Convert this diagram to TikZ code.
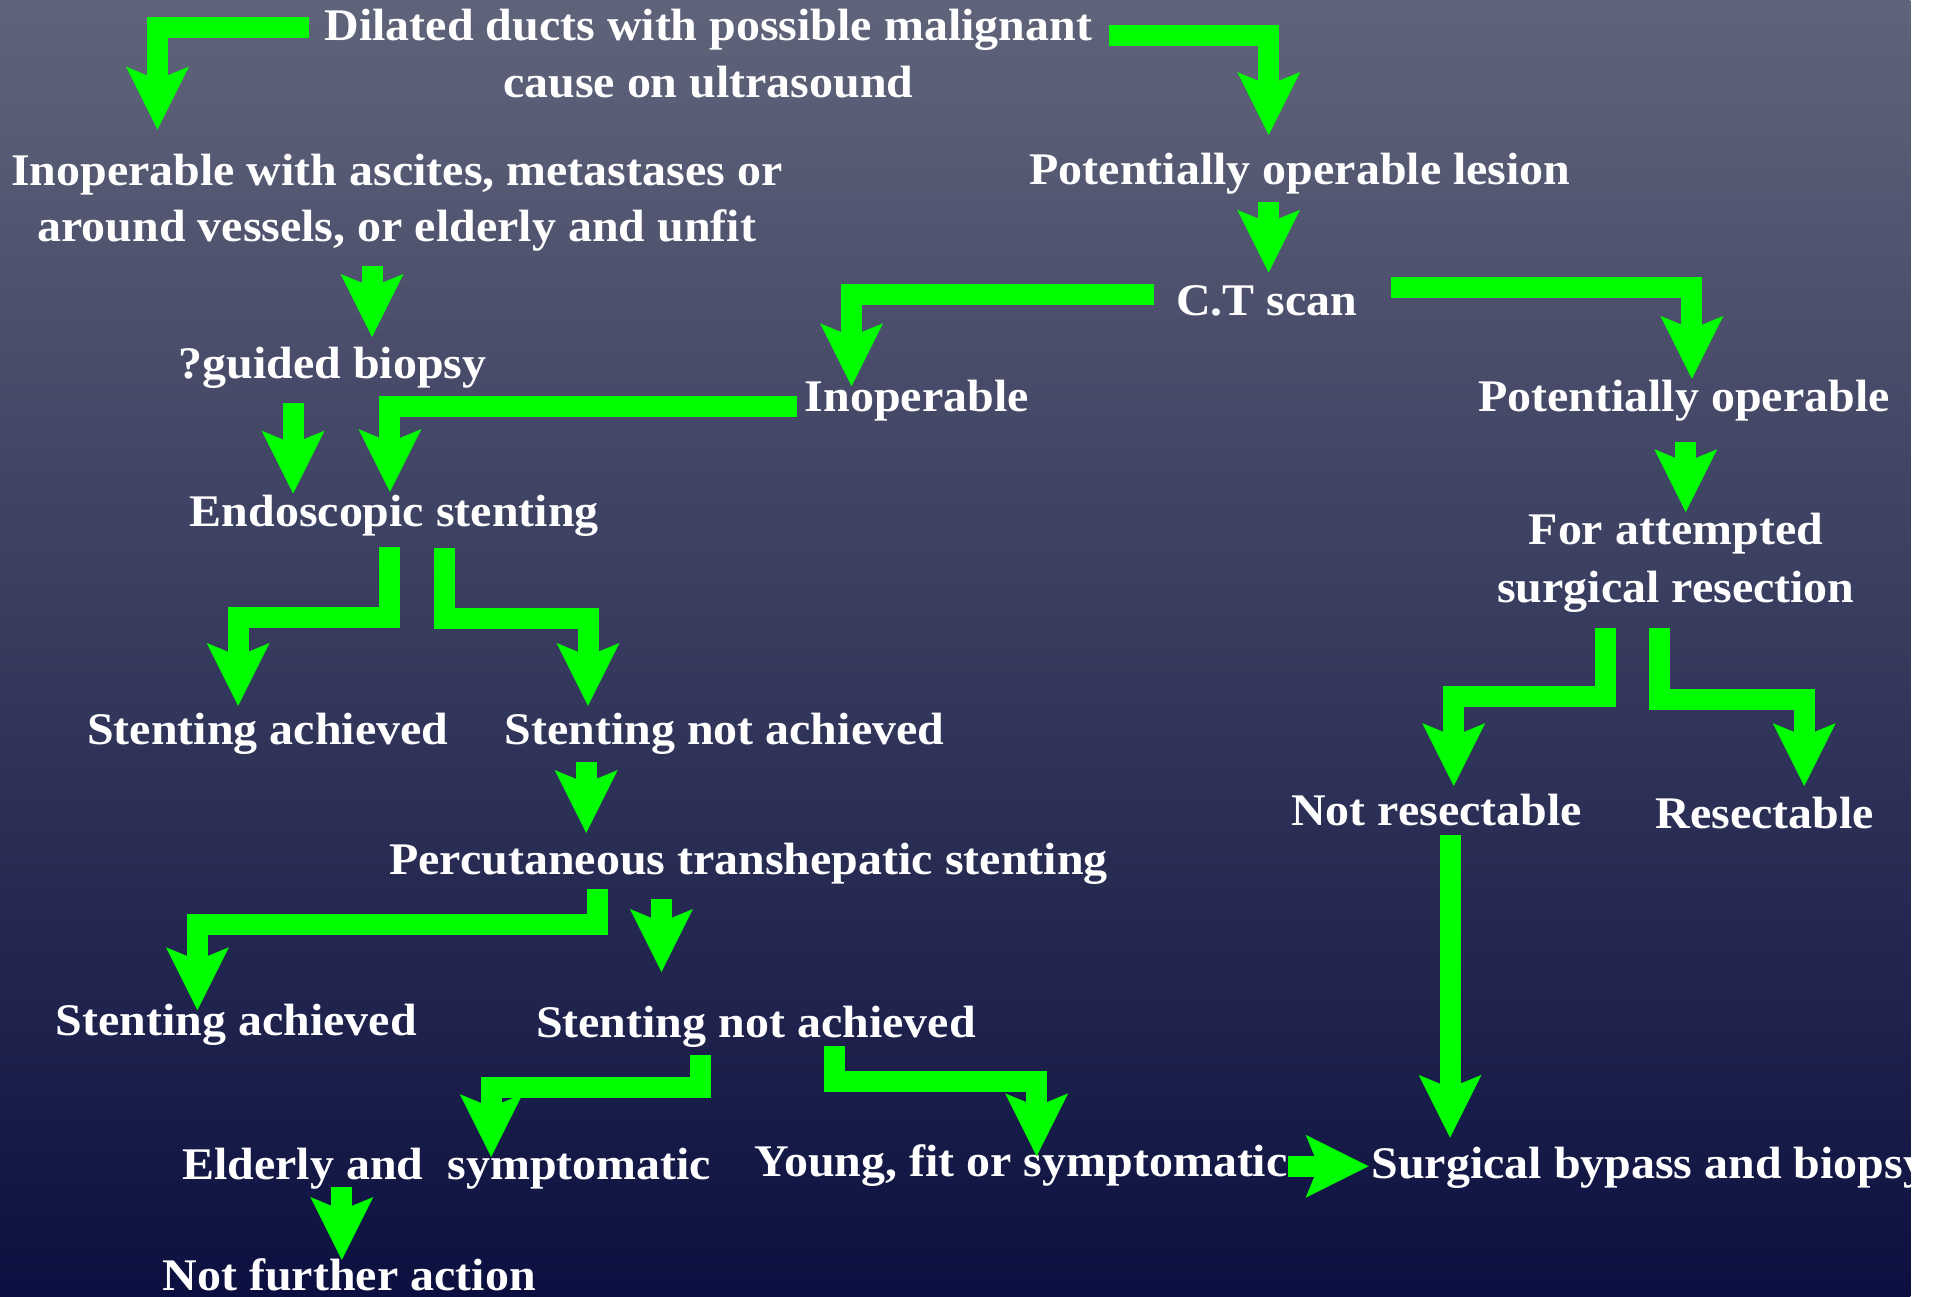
\documentclass[tikz,border=0pt]{standalone}
\usepackage{fontspec}
\setmainfont{Liberation Serif}[FakeStretch=1.06]
\usetikzlibrary{arrows.meta}
\definecolor{bgtop}{RGB}{96,100,122}
\definecolor{bgbot}{RGB}{12,16,64}
\definecolor{arrowgreen}{RGB}{0,255,0}
\tikzset{
  lbl/.style={text=white, font=\bfseries\fontsize{22pt}{27.6pt}\selectfont,
    inner sep=0pt, anchor=base, align=center},
  garrow/.style={draw=arrowgreen, line width=10.2pt, line join=miter,
    -{Stealth[length=30.6pt,width=30.6pt,inset=6.3pt,line width=0pt]}},
}
\begin{document}
\begin{tikzpicture}[x=0.6pt,y=-0.6pt]
\useasboundingbox (0,0) rectangle (1568,1051);
\fill[white] (0,0) rectangle (1568,1051);
\begin{scope}
\clip (0,0) rectangle (1548,1051);
\shade[top color=bgtop,bottom color=bgbot] (0,0) rectangle (1548,1051);

% ---- text nodes (base anchor = baseline of the last line) ----
\node[lbl] (dil) at (574,79) {Dilated ducts with possible malignant\\cause on ultrasound};
\node[lbl] (inopa) at (321.5,196) {Inoperable with ascites, metastases or\\around vessels, or elderly and unfit};
\node[lbl] (potles) at (1053.5,149.4) {Potentially operable lesion};
\node[lbl] (ct) at (1026.5,255.3) {C.T scan};
\node[lbl] (biop) at (269.5,307) {?guided biopsy};
\node[lbl] (inop) at (743,333.6) {Inoperable};
\node[lbl] (potop) at (1364.5,333.6) {Potentially operable};
\node[lbl] (endo) at (319.5,426.8) {Endoscopic stenting};
\node[lbl] (attempt) at (1358,488) {For attempted\\[0.6pt]surgical resection};
\node[lbl] (sa1) at (217,603) {Stenting achieved};
\node[lbl] (sna1) at (587,603) {Stenting not achieved};
\node[lbl] (notres) at (1164,669) {Not resectable};
\node[lbl] (res) at (1430,671) {Resectable};
\node[lbl] (perc) at (606.5,709) {Percutaneous transhepatic stenting};
\node[lbl] (sa2) at (191.5,838.7) {Stenting achieved};
\node[lbl] (sna2) at (612.5,841) {Stenting not achieved};
\node[lbl] (elder) at (362,956) {Elderly and\ \ symptomatic};
\node[lbl] (young) at (827.5,953) {Young, fit or symptomatic};
\node[lbl, anchor=base west] (surg) at (1111,955) {Surgical bypass and biopsy};
\node[lbl] (nfa) at (283,1046) {Not further action};

% ---- connector end points ----
\coordinate (a1s) at (250,22);      \coordinate (a1e) at (127.6,105);
\coordinate (a2s) at (899,28.4);    \coordinate (a2e) at (1028,109.4);
\coordinate (a3s) at (1028,164);    \coordinate (a3e) at (1028,221);
\coordinate (a4s) at (935,238.7);   \coordinate (a4e) at (690,313);
\coordinate (a5s) at (1127,233);    \coordinate (a5e) at (1371,307);
\coordinate (a6s) at (301.5,215.5); \coordinate (a6e) at (301.5,273);
\coordinate (a7s) at (237.5,326.6); \coordinate (a7e) at (237.5,400);
\coordinate (a8s) at (646,329.4);   \coordinate (a8e) at (316,398.7);
\coordinate (a9s) at (316,443);     \coordinate (a9e) at (193,572);
\coordinate (a10s) at (360,444);    \coordinate (a10e) at (476.5,572);
\coordinate (a11s) at (475,617.5);  \coordinate (a11e) at (475,675);
\coordinate (a12s) at (1366,358);   \coordinate (a12e) at (1366,415);
\coordinate (a13s) at (1301,508.5); \coordinate (a13e) at (1178,637);
\coordinate (a14s) at (1345,509);   \coordinate (a14e) at (1462,637);
\coordinate (a15s) at (1175,677);   \coordinate (a15e) at (1175,922);
\coordinate (a16s) at (484,720);    \coordinate (a16e) at (160,818.6);
\coordinate (a17s) at (536,728.6);  \coordinate (a17e) at (536,787.6);
\coordinate (a18s) at (567.5,855);  \coordinate (a18e) at (398,937.6);
\coordinate (a19s) at (676,848);    \coordinate (a19e) at (840,937);
\coordinate (a20s) at (277,962);    \coordinate (a20e) at (277,1021);
\coordinate (a21s) at (1044,945);   \coordinate (a21e) at (1109,945);

% ---- connectors ----
\draw[garrow] (a1s) -| (a1e);
\draw[garrow] (a2s) -| (a2e);
\draw[garrow] (a3s) -- (a3e);
\draw[garrow] (a4s) -| (a4e);
\draw[garrow] (a5s) -| (a5e);
\draw[garrow] (a6s) -- (a6e);
\draw[garrow] (a7s) -- (a7e);
\draw[garrow] (a8s) -| (a8e);
\draw[garrow] (a9s) -- (a9s |- 0,500) -| (a9e);
\draw[garrow] (a10s) -- (a10s |- 0,501) -| (a10e);
\draw[garrow] (a11s) -- (a11e);
\draw[garrow] (a12s) -- (a12e);
\draw[garrow] (a13s) -- (a13s |- 0,564.5) -| (a13e);
\draw[garrow] (a14s) -- (a14s |- 0,567) -| (a14e);
\draw[garrow] (a15s) -- (a15e);
\draw[garrow] (a16s) -- (a16s |- 0,749) -| (a16e);
\draw[garrow] (a17s) -- (a17e);
\draw[garrow] (a18s) -- (a18s |- 0,881) -| (a18e);
\draw[garrow] (a19s) -- (a19s |- 0,876) -| (a19e);
\draw[garrow] (a20s) -- (a20e);
\draw[garrow] (a21s) -- (a21e);
\end{scope}
\end{tikzpicture}
\end{document}
